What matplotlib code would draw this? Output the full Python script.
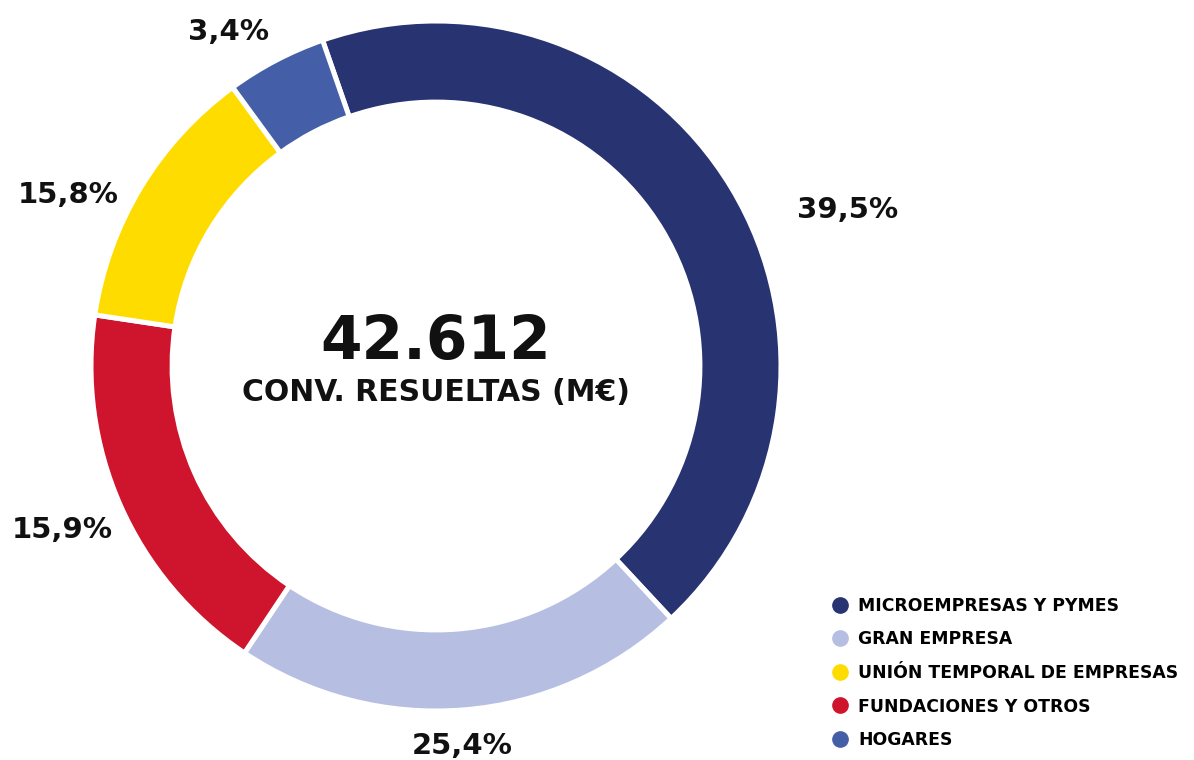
import matplotlib.pyplot as plt
from matplotlib.lines import Line2D

# Data (arc shares read from the drawn ring; labels as printed on the chart)
categories = ["MICROEMPRESAS Y PYMES", "GRAN EMPRESA", "FUNDACIONES Y OTROS",
              "UNIÓN TEMPORAL DE EMPRESAS", "HOGARES"]
shares = [43.4, 21.3, 18.0, 12.6, 4.7]
pct_labels = ["39,5%", "25,4%", "15,9%", "15,8%", "3,4%"]
colors = ["#283371", "#B6BFE2", "#CF152D", "#FFDC00", "#455EA8"]
legend_order = [0, 1, 3, 2, 4]
total_label = "42.612"
total_caption = "CONV. RESUELTAS (M€)"

W, H = 1194, 760
FONT = "DejaVu Sans"


def fx(px):
    return px / W


def fy(py):
    return 1 - py / H


fig = plt.figure(figsize=(W / 100, H / 100), dpi=100)

# donut: centre (436, 366) px, outer radius ~343 px
cx, cy, R = 436, 366, 345
ax = fig.add_axes([fx(cx - R), fy(cy + R), 2 * R / W, 2 * R / H])
wedges, _ = ax.pie(shares, colors=colors, startangle=109.2, counterclock=False,
                   radius=1.0,
                   wedgeprops=dict(width=0.235, edgecolor="white", linewidth=3.6))
ax.set_xlim(-1, 1)
ax.set_ylim(-1, 1)
ax.set_aspect("equal")
ax.axis("off")

# percentage labels around the ring
label_pos = [(848, 210), (462, 746), (62, 530), (68, 195), (228, 32)]
for txt, (px, py) in zip(pct_labels, label_pos):
    fig.text(fx(px), fy(py), txt, ha="center", va="center",
             fontsize=21, fontweight="bold", family=FONT, color="#111111")

# centre text
fig.text(fx(cx), fy(343), total_label, ha="center", va="center",
         fontsize=43, fontweight="bold", family=FONT, color="#111111")
fig.text(fx(cx), fy(392), total_caption, ha="center", va="center",
         fontsize=21.5, fontweight="bold", family=FONT, color="#111111")

# legend
handles = [Line2D([], [], marker="o", linestyle="none", markersize=11,
                  markerfacecolor=colors[i], markeredgecolor=colors[i])
           for i in legend_order]
labels = [categories[i] for i in legend_order]
fig.legend(handles, labels, loc="upper left", bbox_to_anchor=(fx(834), fy(597)),
           frameon=False, handlelength=0.65, handletextpad=0.75, labelspacing=0.9,
           borderpad=0, borderaxespad=0,
           prop=dict(family=FONT, weight="bold", size=12.4))

fig.savefig("out.png", dpi=100)
